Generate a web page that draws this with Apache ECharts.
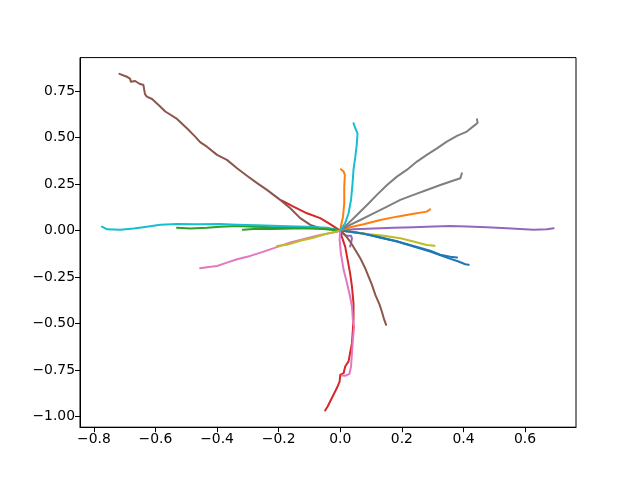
<!DOCTYPE html>
<html>
<head>
<meta charset="utf-8">
<script src="https://cdn.jsdelivr.net/npm/echarts@6/dist/echarts.min.js"></script>
<style>html,body{margin:0;padding:0;background:#fff}#c{width:640px;height:480px}</style>
</head>
<body>
<div id="c"></div>
<script>
const xTicks = [-0.8, -0.6, -0.4, -0.2, 0.0, 0.2, 0.4, 0.6];
const yTicks = [-1.0, -0.75, -0.5, -0.25, 0.0, 0.25, 0.5, 0.75];

const blueA = [[0,0],[0.032,-0.005],[0.076,-0.016],[0.13,-0.038],[0.184,-0.059],[0.238,-0.086],[0.292,-0.113],[0.346,-0.145],[0.384,-0.166],[0.406,-0.181],[0.417,-0.184]];
const orangeUp = [[0,0],[0.003,0.03],[0.009,0.075],[0.013,0.147],[0.013,0.236],[0.015,0.299],[0.011,0.317],[0.002,0.33]];
const greenLong = [[0,0],[-0.065,0.011],[-0.141,0.015],[-0.216,0.018],[-0.281,0.021],[-0.335,0.025],[-0.39,0.021],[-0.433,0.015],[-0.487,0.011],[-0.53,0.015]];
const redUL = [[0,0],[-0.005,0.009],[-0.038,0.04],[-0.065,0.067],[-0.108,0.093],[-0.152,0.129],[-0.189,0.161]];
const purpleRight = [[0,0],[0.043,0.007],[0.108,0.011],[0.173,0.015],[0.238,0.018],[0.303,0.022],[0.357,0.025],[0.411,0.022],[0.476,0.018],[0.541,0.013],[0.584,0.009],[0.628,0.004],[0.671,0.007],[0.693,0.013]];
const brownUL = [[0,0],[-0.01,0.004],[-0.065,0.013],[-0.097,0.031],[-0.13,0.067],[-0.162,0.12],[-0.195,0.165],[-0.238,0.219],[-0.27,0.255],[-0.303,0.295],[-0.335,0.335],[-0.368,0.38],[-0.40,0.407],[-0.433,0.451],[-0.455,0.475],[-0.471,0.505],[-0.498,0.55],[-0.53,0.60],[-0.568,0.64],[-0.59,0.675],[-0.611,0.707],[-0.628,0.72],[-0.634,0.733],[-0.639,0.782],[-0.652,0.789],[-0.666,0.804],[-0.68,0.80],[-0.682,0.815],[-0.693,0.827],[-0.717,0.842]];
const pinkLeft = [[0,0],[-0.01,-0.006],[-0.065,-0.023],[-0.108,-0.041],[-0.162,-0.064],[-0.206,-0.089],[-0.249,-0.113],[-0.292,-0.136],[-0.335,-0.154],[-0.368,-0.172],[-0.40,-0.19],[-0.433,-0.197],[-0.455,-0.202]];
const grayTop = [[0,0],[0.027,0.04],[0.054,0.084],[0.087,0.138],[0.119,0.192],[0.152,0.245],[0.184,0.29],[0.216,0.326],[0.249,0.371],[0.281,0.407],[0.314,0.442],[0.346,0.478],[0.379,0.509],[0.411,0.532],[0.438,0.568],[0.446,0.58],[0.444,0.598]];
const oliveRight = [[0,0],[0.043,-0.01],[0.087,-0.018],[0.141,-0.028],[0.195,-0.041],[0.238,-0.059],[0.281,-0.077],[0.306,-0.082]];
const cyanLeft = [[0,0],[-0.043,0.015],[-0.108,0.021],[-0.195,0.025],[-0.27,0.029],[-0.335,0.032],[-0.39,0.036],[-0.465,0.034],[-0.53,0.036],[-0.584,0.032],[-0.628,0.021],[-0.671,0.011],[-0.714,0.004],[-0.757,0.007],[-0.774,0.021]];

const blueB = [[0,0],[0.032,-0.006],[0.076,-0.017],[0.13,-0.036],[0.184,-0.057],[0.238,-0.082],[0.292,-0.108],[0.325,-0.13],[0.357,-0.14],[0.379,-0.145]];
const orangeRight = [[0,0],[0.032,0.018],[0.076,0.034],[0.13,0.057],[0.184,0.075],[0.238,0.09],[0.281,0.102],[0.292,0.115]];
const greenShort = [[0,0],[-0.01,0.005],[-0.087,0.011],[-0.152,0.011],[-0.216,0.008],[-0.281,0.008],[-0.316,0.004]];
const redDown = [[0,0],[0.005,-0.032],[0.016,-0.086],[0.024,-0.157],[0.032,-0.229],[0.038,-0.30],[0.043,-0.39],[0.043,-0.48],[0.041,-0.533],[0.038,-0.605],[0.032,-0.658],[0.027,-0.703],[0.016,-0.73],[0.011,-0.766],[0,-0.775],[-0.002,-0.811],[-0.011,-0.846],[-0.022,-0.882],[-0.030,-0.909],[-0.041,-0.945],[-0.049,-0.967]];
const purpleSmall = [[0,0],[0.016,-0.027],[0.035,-0.027],[0.038,-0.041],[0.035,-0.068],[0.032,-0.086]];
const brownDown = [[0,0],[0.016,-0.023],[0.032,-0.059],[0.049,-0.104],[0.065,-0.148],[0.081,-0.202],[0.092,-0.247],[0.103,-0.292],[0.114,-0.345],[0.128,-0.399],[0.135,-0.435],[0.143,-0.48],[0.149,-0.506]];
const pinkDown = [[0,0],[-0.002,-0.05],[0.002,-0.121],[0.011,-0.211],[0.022,-0.283],[0.032,-0.354],[0.038,-0.408],[0.041,-0.48],[0.045,-0.516],[0.041,-0.587],[0.038,-0.658],[0.035,-0.73],[0.030,-0.77],[0.016,-0.78],[0.005,-0.778]];
const grayLow = [[0,0],[0.032,0.031],[0.065,0.057],[0.108,0.093],[0.152,0.129],[0.195,0.165],[0.238,0.192],[0.281,0.218],[0.325,0.245],[0.368,0.269],[0.39,0.281],[0.395,0.308]];
const oliveLeft = [[0,0],[-0.05,-0.02],[-0.09,-0.04],[-0.13,-0.055],[-0.17,-0.075],[-0.205,-0.083]];
const cyanUp = [[0,0],[0.016,0.04],[0.027,0.093],[0.035,0.165],[0.04,0.254],[0.043,0.326],[0.049,0.397],[0.054,0.469],[0.056,0.523],[0.049,0.55],[0.043,0.577]];

const palette = ['#1f77b4','#ff7f0e','#2ca02c','#d62728','#9467bd','#8c564b','#e377c2','#7f7f7f','#bcbd22','#17becf'];
const lines = [blueA, orangeUp, greenLong, redUL, purpleRight, brownUL, pinkLeft, grayTop, oliveRight, cyanLeft,
               blueB, orangeRight, greenShort, redDown, purpleSmall, brownDown, pinkDown, grayLow, oliveLeft, cyanUp];

const fmt = v => { return v; };
const axisCommon = {
  type: 'value',
  splitLine: {show: false},
  axisLine: {show: true, onZero: false, lineStyle: {color: '#000', width: 1}},
  axisTick: {show: true, length: 5, lineStyle: {color: '#000', width: 1}},
};
const chart = echarts.init(document.getElementById('c'), null, {renderer: 'canvas'});
chart.setOption({
  animation: false,
  backgroundColor: '#fff',
  grid: {left: 80, top: 57.6, width: 496, height: 369.6, show: true, borderColor: '#000', borderWidth: 1, containLabel: false},
  xAxis: Object.assign({}, axisCommon, {
    min: -0.845, max: 0.7655,
    axisTick: Object.assign({}, axisCommon.axisTick, {customValues: xTicks}),
    axisLabel: {customValues: xTicks, margin: 5, color: '#000', fontSize: 13.9, fontFamily: 'DejaVu Sans',
      formatter: v => (v < 0 ? '\u2212' : '') + Math.abs(v).toFixed(1)}
  }),
  yAxis: Object.assign({}, axisCommon, {
    min: -1.0564, max: 0.9296,
    axisTick: Object.assign({}, axisCommon.axisTick, {customValues: yTicks}),
    axisLabel: {customValues: yTicks, margin: 5, color: '#000', fontSize: 13.9, fontFamily: 'DejaVu Sans',
      formatter: v => (v < 0 ? '\u2212' : '') + Math.abs(v).toFixed(2)}
  }),
  series: lines.map((d, i) => ({
    type: 'line',
    data: d,
    showSymbol: false,
    symbol: 'none',
    z: 2,
    zlevel: 0,
    lineStyle: {color: palette[i % 10], width: 2, join: 'round', cap: 'round'},
    itemStyle: {color: palette[i % 10]}
  }))
});
</script>
</body>
</html>
